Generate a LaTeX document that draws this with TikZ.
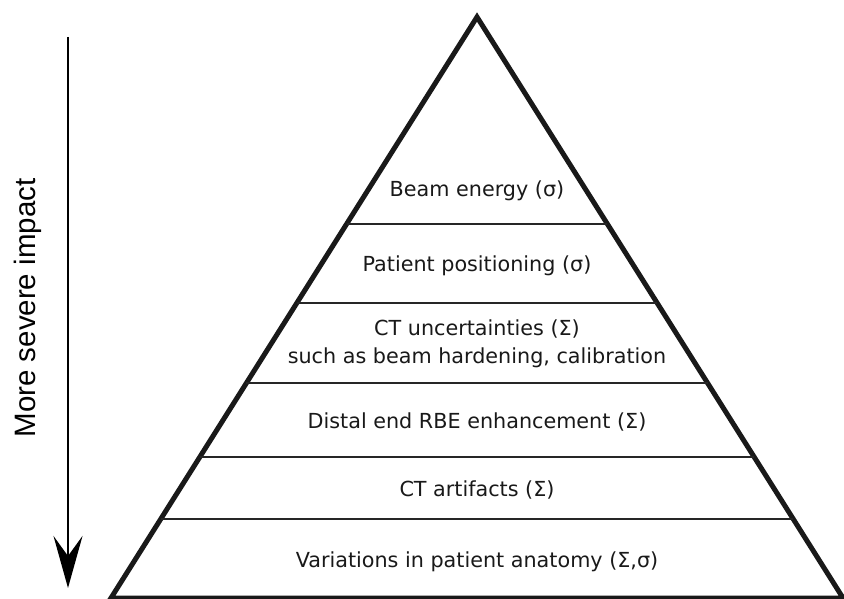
\documentclass[tikz,border=0pt]{standalone}
\usepackage{fontspec}
\setmainfont{DejaVu Sans}
\newfontfamily\impactfont{Liberation Sans}
\usetikzlibrary{arrows.meta,calc}

\begin{document}
\begin{tikzpicture}[x=1bp, y=-1bp,
	layer/.style={font=\fontsize{20.8}{28}\selectfont, align=center, anchor=base, text=black!90},
	sep/.style={line width=1.5bp, draw=black!85}]
	\useasboundingbox (0,0) rectangle (844,599);
	
	% Draw pyramid
	\coordinate (apex) at (477,17);
	\coordinate (left) at (111,598);
	\coordinate (right) at (843,598);
	\draw[line width=5bp, draw=black!90] (apex) -- (left) -- (right) -- cycle;
	
	% Draw layer separations
	\foreach \y in {224,303,383,457,519}
		\draw[sep] ($(apex)!{(\y-17)/581}!(left)$) -- ($(apex)!{(\y-17)/581}!(right)$);
	
	% Draw text
	\node[layer] (beam) at (477,197) {Beam energy (σ)};
	\node[layer] (position) at (477,271) {Patient positioning (σ)};
	\node[layer] (ct) at (477,363) {CT uncertainties (Σ)\\such as beam hardening, calibration};
	\node[layer] (rbe) at (477,428) {Distal end RBE enhancement (Σ)};
	\node[layer] (artifacts) at (477,496) {CT artifacts (Σ)};
	\node[layer] (anatomy) at (477,567) {Variations in patient anatomy (Σ,σ)};
	
	% Draw impact arrow
	\coordinate (top) at (68,37);
	\coordinate (tip) at (68,588);
	\draw[line width=2.5bp, -{Stealth[length=52bp, width=29bp, inset=20bp]}] (top) -- (tip);
	\node[rotate=90, anchor=base, font=\impactfont\fontsize{29.6}{34}\selectfont] (impact) at (35,308) {More severe impact};
\end{tikzpicture}
\end{document}
